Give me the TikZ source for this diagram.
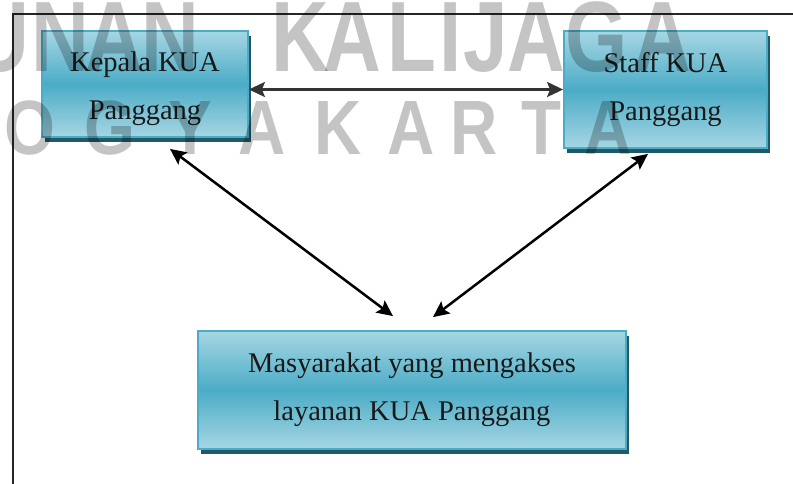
\documentclass[tikz,border=0pt]{standalone}
\usepackage{fontspec}
\setmainfont{Liberation Serif}
\newfontfamily\wmfont{Liberation Sans}
\usepackage{xcolor}
\usetikzlibrary{arrows.meta, shadows}

\definecolor{boxlight}{HTML}{A6D6E4}
\definecolor{boxmid}{HTML}{4BACC6}
\definecolor{boxline}{HTML}{4BACC6}
\definecolor{boxshadow}{HTML}{215968}

\begin{document}
\begin{tikzpicture}[x=1pt, y=-1pt, >=latex]
		\tikzstyle{box} = [draw=boxline, line width=1.8pt, rectangle, top color=boxlight, bottom color=boxlight, middle color=boxmid, inner sep=0pt, align=center, text=black!90, font=\fontsize{28.5}{48}\selectfont, drop shadow={shadow xshift=2.5pt, shadow yshift=-5pt, fill=boxshadow, opacity=1}]
		\tikzstyle{arrow} = [line width=2.5pt, <->, >={Stealth[length=16pt, width=15pt, inset=3pt]}]
		\tikzstyle{wmbig} = [inner sep=0pt, anchor=base, text=black, text opacity=0.23, font=\wmfont\bfseries\fontsize{100}{100}\selectfont, xscale=0.8, transform shape]
		\tikzstyle{wmsmall} = [inner sep=0pt, anchor=base, text=black, text opacity=0.23, font=\wmfont\bfseries\fontsize{77}{77}\selectfont, xscale=0.85, transform shape]

		\useasboundingbox (0, 0) rectangle (793, 484);
		\draw[line width=1.5pt, black!85] (13, 484) -- (13, 14) -- (793, 14);

		\node[box, minimum width=206pt, minimum height=106pt]	at (145, 84)	(kepala)	{\rule{0pt}{30pt}Kepala KUA\\Panggang};
		\node[box, minimum width=203pt, minimum height=117pt]	at (665.5, 89.5)	(staff)	{Staff KUA\\Panggang};
		\node[box, minimum width=428pt, minimum height=118pt]	at (412, 390)	(warga)	{Masyarakat yang mengakses\\layanan KUA Panggang};

		\draw [arrow, black!80] (kepala.east |- staff.west) -- (staff.west);
		\draw [arrow] ([xshift=25pt, yshift=-11pt]kepala.south) -- ([xshift=-19pt, yshift=14pt]warga.north);
		\draw [arrow] ([xshift=-17.5pt, yshift=-5pt]staff.south) -- ([xshift=21pt, yshift=13pt]warga.north);

		\foreach \x/\c in {0/U, 60/N, 114/A, 170/N, 300/K, 352/A, 412/L, 451/I, 486/J, 536/A, 597/G, 662/A}
			\node[wmbig] at (\x, 72) {\c};
		\foreach \x/\c in {30/O, 110/G, 190/Y, 262/A, 338/K, 411/A, 474/R, 541/T, 608/A}
			\node[wmsmall] at (\x, 155) {\c};
\end{tikzpicture}
\end{document}
